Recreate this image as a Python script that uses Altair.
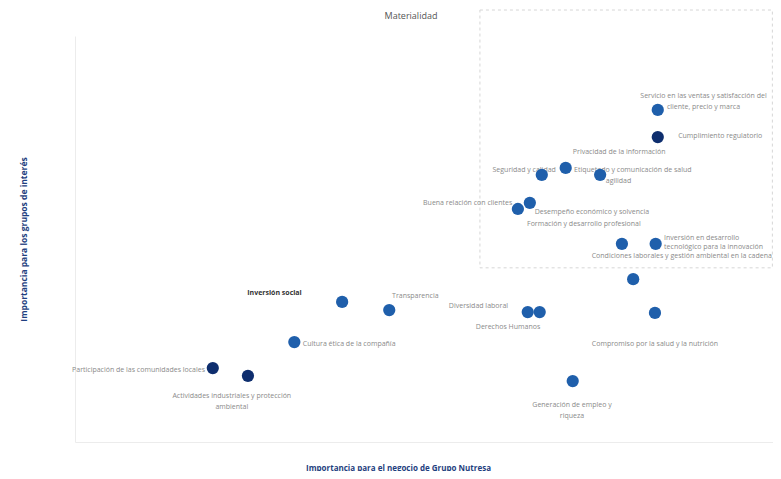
import altair as alt
import pandas as pd

# ---- data (0-100 scales) ----
point_x = [82.9, 82.9, 69.8, 66.4, 74.7, 64.7, 63.0, 77.8, 82.6, 79.4,
           82.5, 64.4, 66.1, 44.7, 38.0, 31.2, 19.6, 24.6, 70.8]
point_y = [81.8, 75.1, 67.5, 65.8, 65.8, 58.9, 57.4, 48.8, 48.8, 40.1,
           31.8, 32.0, 32.0, 32.5, 34.5, 24.6, 18.2, 16.3, 15.0]
point_tone = ["m", "d", "m", "m", "m", "m", "m", "m", "m", "m",
              "m", "m", "m", "m", "m", "m", "d", "d", "m"]

label_text = [
    "Servicio en las ventas y satisfacción del", "cliente, precio y marca",
    "Cumplimiento regulatorio", "Privacidad de la información",
    "Seguridad y calidad", "Etiquetado y comunicación de salud", "agilidad",
    "Buena relación con clientes", "Desempeño económico y solvencia",
    "Formación y desarrollo profesional",
    "Inversión en desarrollo", "tecnológico para la innovación",
    "Condiciones laborales y gestión ambiental en la cadena",
    "Compromiso por la salud y la nutrición", "Diversidad laboral",
    "Derechos Humanos", "Transparencia", "Inversión social",
    "Cultura ética de la compañía", "Participación de las comunidades locales",
    "Actividades industriales y protección", "ambiental",
    "Generación de empleo y", "riqueza",
]
label_x = [89.4, 89.4, 85.8, 77.4, 68.4, 71.0, 75.5, 62.2, 65.4, 64.3, 83.8,
           83.8, 73.5, 82.5, 61.6, 61.6, 45.1, 24.5, 32.4, 18.5, 22.3, 22.3,
           70.7, 70.7]
label_y = [85.2, 82.5, 75.4, 71.4, 67.0, 67.0, 64.3, 58.9, 56.7, 53.7, 50.2,
           48.1, 45.9, 24.1, 33.5, 28.3, 36.0, 36.7, 24.1, 17.7, 11.3, 8.6,
           9.1, 6.4]
label_align = ["center", "center", "left", "center", "right", "left", "left",
               "right", "left", "left", "left", "left", "left", "center",
               "right", "center", "left", "left", "left", "right", "center",
               "center", "center", "center"]
dark_labels = ["Inversión social"]

box_x, box_x2 = [57.6], [99.2]
box_y, box_y2 = [42.9], [106.4]

pts = pd.DataFrame({"x": point_x, "y": point_y, "tone": point_tone})
labs = pd.DataFrame({"t": label_text, "x": label_x, "y": label_y, "a": label_align})
box = pd.DataFrame({"x": box_x, "x2": box_x2, "y": box_y, "y2": box_y2})

xs = alt.Scale(domain=[0, 99.29], nice=False, zero=False)
ys = alt.Scale(domain=[0, 100], nice=False, zero=False)

x_axis = alt.Axis(title="Importancia para el negocio de Grupo Nutresa", labels=False,
                  ticks=False, grid=False, domainColor="#ececec",
                  titleColor="#1f3f80", titleFontSize=8, titleFontWeight="bold",
                  titlePadding=22, titleFont="Open Sans", titleX=323)
y_axis = alt.Axis(title="Importancia para los grupos de interés", labels=False,
                  ticks=False, grid=False, domainColor="#ececec",
                  titleColor="#1f3f80", titleFontSize=8.5, titleFontWeight="bold",
                  titlePadding=47, titleFont="Open Sans")

base_axes = alt.Chart(box).mark_point(opacity=0).encode(
    x=alt.X("x:Q", scale=xs, axis=x_axis),
    y=alt.Y("y:Q", scale=ys, axis=y_axis),
)

rect = alt.Chart(box).mark_rect(fill=None, stroke="#d6d6d6", strokeDash=[3, 3],
                                strokeWidth=1, clip=False).encode(
    x=alt.X("x:Q", scale=xs), x2="x2:Q",
    y=alt.Y("y:Q", scale=ys), y2="y2:Q",
)

text_layers = []
for a in ["left", "center", "right"]:
    text_layers.append(
        alt.Chart(labs).transform_filter(alt.datum.a == a)
        .transform_filter(~alt.FieldOneOfPredicate(field="t", oneOf=dark_labels))
        .mark_text(align=a, baseline="middle", fontSize=7, color="#8a8a8a",
                   font="Open Sans", clip=False)
        .encode(x=alt.X("x:Q", scale=xs), y=alt.Y("y:Q", scale=ys), text="t:N")
    )
dark_text = (
    alt.Chart(labs).transform_filter(alt.FieldOneOfPredicate(field="t", oneOf=dark_labels))
    .mark_text(align="left", baseline="middle", fontSize=7, color="#333333",
               fontWeight="bold", font="Open Sans")
    .encode(x=alt.X("x:Q", scale=xs), y=alt.Y("y:Q", scale=ys), text="t:N")
)

points = alt.Chart(pts).mark_circle(size=150, opacity=1).encode(
    x=alt.X("x:Q", scale=xs), y=alt.Y("y:Q", scale=ys),
    color=alt.Color("tone:N", scale=alt.Scale(domain=["m", "d"],
                    range=["#1f5fab", "#0e2e6e"]), legend=None),
)

chart = alt.layer(base_axes, rect, *text_layers, dark_text, points).properties(
    width=698, height=406,
    title=alt.TitleParams("Materialidad", fontSize=9, color="#555555",
                          fontWeight="normal", font="Open Sans", offset=-11,
                          anchor="middle", dx=-13),
    autosize=alt.AutoSizeParams(type="none"),
    padding={"left": 67, "top": 28, "right": 0, "bottom": 29},
).configure_view(stroke=None)

chart.save("out.html", embed_options={"renderer": "svg", "actions": False})
